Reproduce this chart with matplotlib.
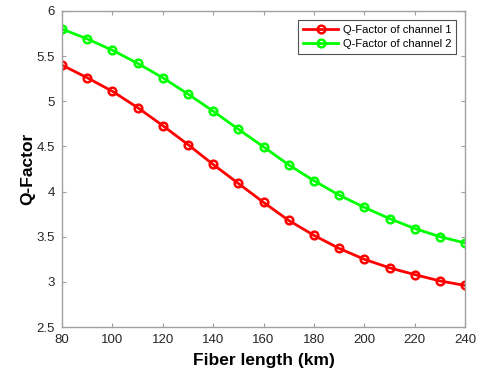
import numpy as np
import matplotlib.pyplot as plt

plt.rcParams['font.family'] = ['Liberation Sans', 'DejaVu Sans']

fiber_length = [80, 90, 100, 110, 120, 130, 140, 150, 160, 170, 180, 190, 200, 210, 220, 230, 240]
q_channel_1 = [5.40, 5.26, 5.11, 4.93, 4.73, 4.52, 4.30, 4.09, 3.88, 3.68, 3.515, 3.37, 3.25, 3.155, 3.08, 3.01, 2.96]
q_channel_2 = [5.80, 5.69, 5.565, 5.42, 5.26, 5.08, 4.89, 4.69, 4.495, 4.295, 4.12, 3.96, 3.825, 3.70, 3.59, 3.50, 3.43]

fig = plt.figure(figsize=(4.8, 3.75), dpi=100)
ax = fig.add_axes([0.129, 0.128, 0.840, 0.843])

ax.plot(fiber_length, q_channel_1, color='#ff0000', linewidth=2, marker='o',
        markersize=5.5, markerfacecolor='none', markeredgewidth=1.8,
        label='Q-Factor of channel 1')
ax.plot(fiber_length, q_channel_2, color='#00ff00', linewidth=2, marker='o',
        markersize=5.5, markerfacecolor='none', markeredgewidth=1.8,
        label='Q-Factor of channel 2')

ax.set_xlim(80, 240)
ax.set_ylim(2.5, 6)
ax.set_xticks(np.arange(80, 241, 20))
ax.set_yticks(np.arange(2.5, 6.01, 0.5))
ax.set_yticklabels(['2.5', '3', '3.5', '4', '4.5', '5', '5.5', '6'])

for s in ax.spines.values():
    s.set_color('#a0a0a0')
    s.set_linewidth(1)
ax.tick_params(direction='in', top=True, right=True, length=3, width=0.8,
               color='#a0a0a0', labelsize=9.5, labelcolor='#262626', pad=5)

ax.set_xlabel('Fiber length (km)', fontsize=12.5, fontweight='bold', labelpad=5)
ax.set_ylabel('Q-Factor', fontsize=12.5, fontweight='bold', labelpad=1)

leg = ax.legend(loc='upper right', fontsize=8, frameon=True, fancybox=False,
                edgecolor='#262626', handlelength=3.2, borderpad=0.45,
                labelspacing=0.35, handletextpad=0.4, borderaxespad=0.8)
leg.get_frame().set_linewidth(0.8)

fig.savefig('out.png', dpi=100)
